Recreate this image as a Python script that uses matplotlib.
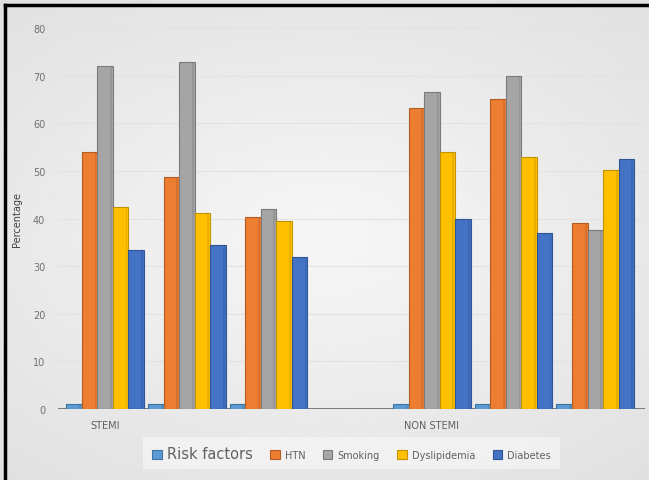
import numpy as np
import matplotlib
matplotlib.use("Agg")
import matplotlib.pyplot as plt
from matplotlib.lines import Line2D

# categories (4th slot is an empty spacer in the original sheet)
categories = ["STEMI", "", "", "", "NON STEMI", "", ""]
series = ["Risk factors", "HTN", "Smoking", "Dyslipidemia", "Diabetes"]

risk = [1, 1, 1, np.nan, 1, 1, 1]
htn = [54, 48.7, 40.3, np.nan, 63.2, 65, 39]
smoking = [72, 72.9, 42, np.nan, 66.6, 70, 37.6]
dyslip = [42.4, 41.2, 39.5, np.nan, 54, 53, 50.2]
diabetes = [33.4, 34.5, 32, np.nan, 40, 37, 52.5]

colors = ["#5B9BD5", "#ED7D31", "#A5A5A5", "#FFC000", "#4472C4"]
edges = ["#41729e", "#b35c20", "#7a7a7a", "#c29200", "#2f5597"]

fig = plt.figure(figsize=(6.49, 4.81), dpi=100)

# light gray background, lighter in the middle
bg = fig.add_axes([0, 0, 1, 1], zorder=-5)
yy, xx = np.mgrid[-1:1:200j, -1:1:200j]
grad = 0.965 - 0.065 * np.clip(np.sqrt((xx * 0.85) ** 2 + (yy * 1.0) ** 2), 0, 1.4)
bg.imshow(grad, cmap="gray", vmin=0, vmax=1, aspect="auto", extent=[0, 1, 0, 1])
bg.set_axis_off()

# black border on left and top
fig.add_artist(Line2D([0.008, 0.008], [0, 0.988], color="black", lw=2.5, transform=fig.transFigure))
fig.add_artist(Line2D([0.008, 1], [0.988, 0.988], color="black", lw=2.5, transform=fig.transFigure))

ax = fig.add_axes([0.089, 0.1476, 0.905, 0.7921])
ax.patch.set_alpha(0)

x = np.arange(len(categories))
w = 0.19
data = [risk, htn, smoking, dyslip, diabetes]
for i, vals in enumerate(data):
    ax.bar(x + (i - 2) * w, vals, width=w, color=colors[i], edgecolor=edges[i],
           linewidth=0.8, label=series[i], zorder=3)
    # darker side strip to hint the 3D look
    ax.bar(x + (i - 2) * w + w * 0.38, vals, width=w * 0.12, color=edges[i],
           linewidth=0, alpha=0.35, zorder=4)

ax.axhline(0, color="#707070", lw=2, zorder=2)
ax.set_ylim(0, 80)
ax.set_xlim(-0.58, 6.61)
ax.set_yticks(range(0, 81, 10))
ax.grid(axis="y", color="#e2e2e2", lw=0.8, zorder=0)
ax.tick_params(axis="y", length=0, labelsize=7, labelcolor="#707070", pad=9)
ax.set_xticks(x)
ax.set_xticklabels(categories)
ax.tick_params(axis="x", length=0, labelsize=7, labelcolor="#606060", pad=8)
for s in ax.spines.values():
    s.set_visible(False)
ax.set_ylabel("Percentage", fontsize=7, color="#404040", labelpad=8)

leg = ax.legend(loc="center", bbox_to_anchor=(0.5, -0.116), ncol=5, frameon=True,
                fontsize=7, handlelength=1.0, handleheight=1.0, columnspacing=1.8,
                handletextpad=0.5, borderpad=0.5)
leg.get_frame().set_facecolor("#f4f4f4")
leg.get_frame().set_edgecolor("none")
leg.get_frame().set_boxstyle("square", pad=0.4)
for t in leg.get_texts():
    t.set_color("#606060")
leg.get_texts()[0].set_fontsize(10.5)

fig.savefig("out.png", dpi=100)
